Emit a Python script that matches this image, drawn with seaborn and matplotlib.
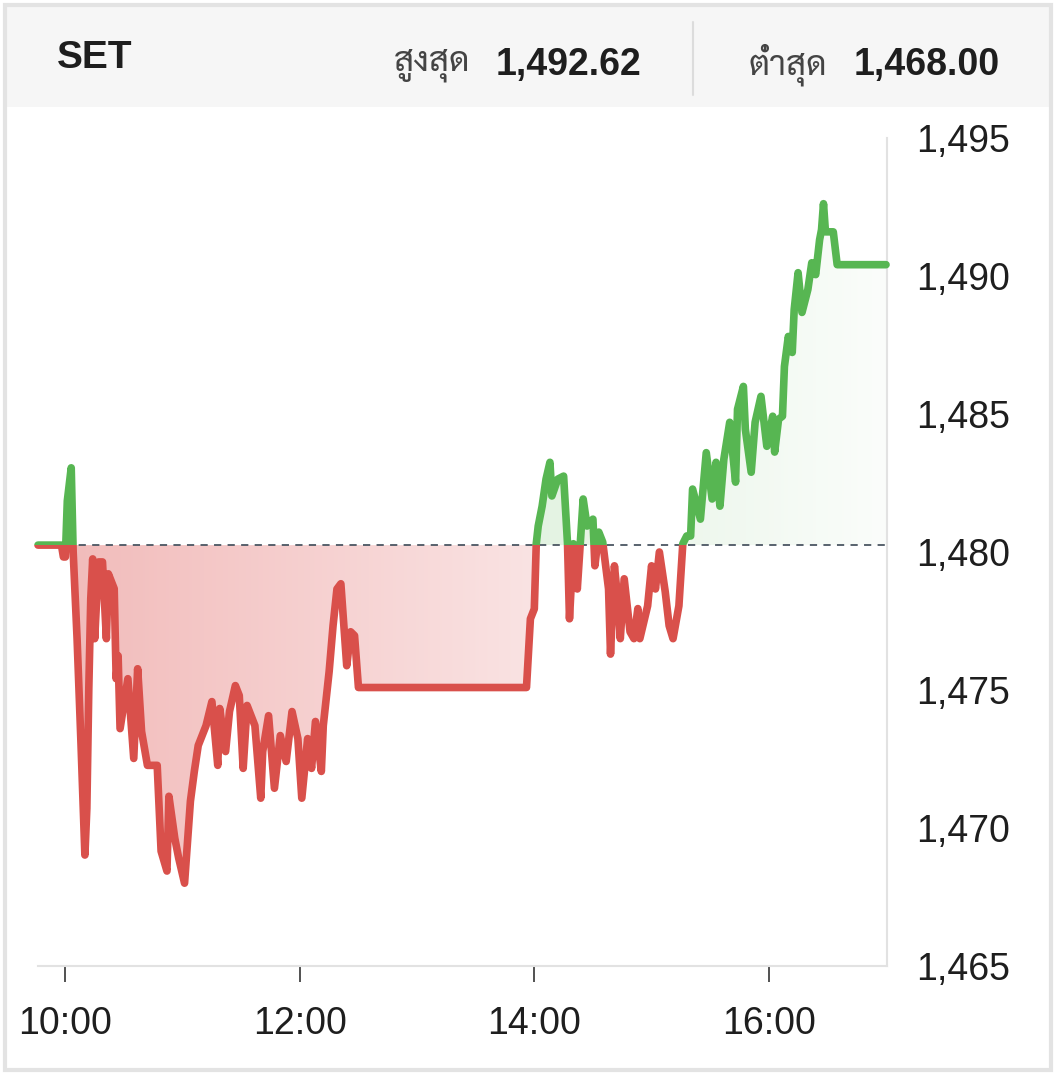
import numpy as np
import pandas as pd
import matplotlib
matplotlib.use("Agg")
import matplotlib.pyplot as plt
import seaborn as sns
from matplotlib import font_manager
from matplotlib.colors import LinearSegmentedColormap
from matplotlib.patches import Rectangle
from matplotlib.path import Path
from matplotlib.lines import Line2D

# SET index, intraday
times = [
    "09:46", "09:58", "09:59", "10:00", "10:01", "10:03", "10:04", "10:06", "10:08", "10:10",
    "10:11", "10:12", "10:13", "10:14", "10:15", "10:17", "10:19", "10:21", "10:22", "10:25",
    "10:26", "10:27", "10:28", "10:32", "10:35", "10:37", "10:39", "10:42", "10:47", "10:48",
    "10:49", "10:52", "10:53", "10:56", "10:58", "11:01", "11:04", "11:06", "11:08", "11:12",
    "11:15", "11:18", "11:19", "11:22", "11:24", "11:27", "11:29", "11:31", "11:33", "11:37",
    "11:40", "11:41", "11:44", "11:47", "11:50", "11:53", "11:56", "11:59", "12:01", "12:04",
    "12:06", "12:08", "12:11", "12:12", "12:15", "12:17", "12:19", "12:21", "12:24", "12:26",
    "12:28", "12:30", "13:56", "13:58", "14:00", "14:01", "14:02", "14:04", "14:06", "14:08",
    "14:09", "14:12", "14:15", "14:17", "14:18", "14:20", "14:22", "14:25", "14:27", "14:30",
    "14:31", "14:33", "14:35", "14:38", "14:39", "14:41", "14:43", "14:44", "14:46", "14:49",
    "14:51", "14:53", "14:54", "14:58", "15:00", "15:02", "15:04", "15:07", "15:09", "15:11",
    "15:14", "15:16", "15:18", "15:20", "15:21", "15:25", "15:28", "15:31", "15:33", "15:35",
    "15:37", "15:40", "15:43", "15:44", "15:47", "15:48", "15:51", "15:53", "15:56", "15:58",
    "15:59", "16:02", "16:03", "16:05", "16:07", "16:08", "16:10", "16:12", "16:13", "16:15",
    "16:17", "16:20", "16:22", "16:24", "16:26", "16:27", "16:28", "16:29", "16:33", "16:35",
    "17:00",
]
prices = [
    1480.25, 1480.25, 1479.82, 1479.82, 1481.85, 1483.05, 1480.00, 1476.86, 1473.06, 1469.02,
    1470.71, 1475.05, 1478.30, 1479.75, 1476.86, 1479.64, 1479.64, 1476.86, 1479.21, 1478.67,
    1475.41, 1476.24, 1473.60, 1475.41, 1472.52, 1475.77, 1473.50, 1472.27, 1472.27, 1470.71,
    1469.16, 1468.44, 1471.15, 1469.63, 1468.91, 1468.00, 1470.97, 1472.05, 1472.99, 1473.71,
    1474.58, 1472.27, 1474.33, 1472.77, 1474.22, 1475.16, 1474.80, 1472.16, 1474.44, 1473.71,
    1471.08, 1472.77, 1474.07, 1471.44, 1473.35, 1472.41, 1474.22, 1473.24, 1471.08, 1473.24,
    1472.16, 1473.86, 1472.05, 1473.71, 1475.67, 1477.33, 1478.66, 1478.85, 1475.88, 1477.11,
    1476.97, 1475.09, 1475.09, 1477.58, 1477.94, 1480.30, 1480.94, 1481.66, 1482.64, 1483.25,
    1482.03, 1482.64, 1482.75, 1480.30, 1477.58, 1480.30, 1478.66, 1481.92, 1480.94, 1481.19,
    1479.50, 1480.72, 1480.36, 1478.66, 1476.30, 1479.50, 1478.05, 1476.86, 1479.03, 1477.11,
    1476.86, 1477.95, 1476.86, 1478.05, 1479.50, 1478.66, 1480.00, 1478.56, 1477.33, 1476.86,
    1478.05, 1480.30, 1480.58, 1480.58, 1482.28, 1481.19, 1483.60, 1481.92, 1483.25, 1481.66,
    1483.36, 1484.70, 1482.53, 1485.17, 1486.00, 1484.45, 1482.89, 1484.70, 1485.64, 1484.45,
    1483.83, 1484.92, 1483.62, 1484.81, 1484.92, 1486.72, 1487.81, 1487.23, 1488.78, 1490.12,
    1488.68, 1489.51, 1490.48, 1490.05, 1491.31, 1491.68, 1492.62, 1491.60, 1491.60, 1490.41,
    1490.41,
]
prev_close = 1480.25

index_name = "SET"
high_label, high_value = "สูงสุด", "1,492.62"
low_label, low_value = "ต่ำสุด", "1,468.00"
x_ticks = ["10:00", "12:00", "14:00", "16:00"]
y_ticks = [1465, 1470, 1475, 1480, 1485, 1490, 1495]

GREEN = "#57b652"
RED = "#d9504b"


def to_min(s):
    h, m = s.split(":")
    return int(h) * 60 + int(m)


df = pd.DataFrame({"t": [to_min(s) for s in times], "price": prices})

sns.set_theme(style="white")
plt.rcParams["font.family"] = ["Liberation Sans", "DejaVu Sans"]

available = {f.name for f in font_manager.fontManager.ttflist}
thai_font = next((f for f in ["Sarabun", "Noto Sans Thai Looped", "Noto Sans Thai",
                              "Anuphan"] if f in available), "DejaVu Sans")

W, H = 1056, 1080
fig = plt.figure(figsize=(W / 100, H / 100), dpi=100)
fig.patch.set_facecolor("white")

# header band + outer frame
fig.patches.append(Rectangle((5 / W, 1 - 107 / H), 1046 / W, 100 / H,
                             transform=fig.transFigure, facecolor="#f6f6f6",
                             edgecolor="none", zorder=0))
fig.patches.append(Rectangle((5 / W, 10 / H), 1046 / W, 1065 / H,
                             transform=fig.transFigure, facecolor="none",
                             edgecolor="#e3e3e3", lw=3, zorder=1))
fig.lines.append(Line2D([693 / W, 693 / W], [1 - 22 / H, 1 - 95 / H],
                        transform=fig.transFigure, color="#dcdcdc", lw=1.5))

fig.text(57 / W, 1 - 58 / H, index_name, fontsize=28, fontweight="bold",
         color="#1e1e1e", va="center", ha="left")
fig.text(641 / W, 1 - 65 / H, high_value, fontsize=27, fontweight="bold",
         color="#1e1e1e", va="center", ha="right")
fig.text(470 / W, 1 - 65 / H, high_label, fontsize=25, color="#444444",
         va="center", ha="right", family=[thai_font, "DejaVu Sans"])
fig.text(1000 / W, 1 - 65 / H, low_value, fontsize=27, fontweight="bold",
         color="#1e1e1e", va="center", ha="right")
fig.text(827 / W, 1 - 65 / H, low_label, fontsize=25, color="#444444",
         va="center", ha="right", family=[thai_font, "DejaVu Sans"])

ax = fig.add_axes([38 / W, 1 - 966 / H, 849 / W, 828 / H])
ax.set_facecolor("none")

x0, x1 = to_min("09:46"), to_min("17:00") + 0.5
y0, y1 = 1465, 1495

# gradient fills between the line and the previous close
t = df["t"].to_numpy()
p = df["price"].to_numpy()
for cond, c_left, c_right, gx0, gx1 in [
    (p <= prev_close, "#f1b9b8", "#fae3e3", x0, to_min("14:00")),
    (p >= prev_close, "#e3f3e2", "#fbfdfb", to_min("14:00"), x1),
]:
    poly = ax.fill_between(t, p, prev_close, where=cond, interpolate=True,
                           facecolor="none", edgecolor="none")
    paths = poly.get_paths()
    if not paths:
        continue
    cmap = LinearSegmentedColormap.from_list("g", [c_left, c_right])
    grad = np.linspace(0, 1, 256).reshape(1, -1)
    im = ax.imshow(grad, extent=[gx0, gx1, y0, y1], aspect="auto", cmap=cmap,
                   origin="lower", zorder=1, interpolation="bilinear")
    im.set_clip_path(Path.make_compound_path(*paths), ax.transData)

# the price line, green above / red below the previous close
for color, ylo, yhi in [(GREEN, prev_close, y1 + 5), (RED, y0 - 5, prev_close)]:
    sns.lineplot(data=df, x="t", y="price", ax=ax, color=color, lw=5.5,
                 zorder=3, legend=False)
    ln = ax.lines[-1]
    ln.set_solid_joinstyle("round")
    ln.set_clip_path(Rectangle((x0 - 10, ylo), x1 - x0 + 20, yhi - ylo,
                               transform=ax.transData))

ax.axhline(prev_close, color="#4b5662", lw=1.3, ls=(0, (4, 3.5)), zorder=2)

ax.set_xlim(x0, x1)
ax.set_ylim(y0, y1)

ax.set_xticks([to_min(s) for s in x_ticks])
ax.set_xticklabels(x_ticks)
ax.set_yticks(y_ticks)
ax.set_yticklabels([f"{v:,}" for v in y_ticks])
ax.yaxis.tick_right()
ax.tick_params(axis="y", length=0, pad=21, labelsize=27, labelcolor="#1e1e1e")
ax.tick_params(axis="x", length=11.5, width=1.2, color="#333333", pad=17,
               labelsize=27, labelcolor="#1e1e1e", direction="out", bottom=True)
ax.set_xlabel("")
ax.set_ylabel("")

for side in ["top", "left"]:
    ax.spines[side].set_visible(False)
for side in ["right", "bottom"]:
    ax.spines[side].set_color("#e2e2e2")
    ax.spines[side].set_linewidth(1.5)

fig.savefig("out.png", dpi=100)
